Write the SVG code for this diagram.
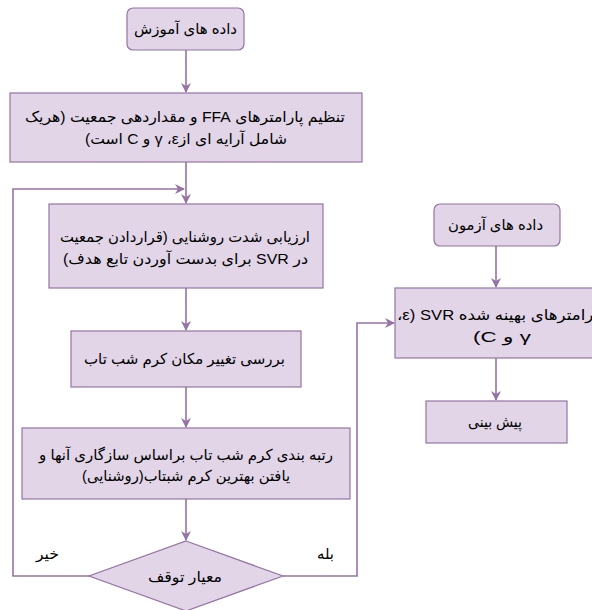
<svg xmlns="http://www.w3.org/2000/svg" width="592" height="610" viewBox="0 0 592 610">
<defs>
<style>
.box{fill:#e1d5e7;stroke:#9673a6;stroke-width:1.2}
.edge{fill:none;stroke:#9673a6;stroke-width:1.6}
.t{font-family:"Liberation Sans","DejaVu Sans",sans-serif;font-size:15px;fill:#000;text-anchor:middle;direction:rtl;unicode-bidi:embed}
</style>
<marker id="arr" viewBox="0 0 10 10" refX="9" refY="5" markerWidth="10" markerHeight="10" markerUnits="userSpaceOnUse" orient="auto">
<path d="M0,0 L10,5 L0,10 L3,5 z" fill="#9673a6"/>
</marker>
</defs>
<rect width="592" height="610" fill="#fff"/>
<g id="connectors">
<line class="edge" x1="186" y1="50" x2="186" y2="92" marker-end="url(#arr)"/>
<line class="edge" x1="186" y1="162" x2="186" y2="203" marker-end="url(#arr)"/>
<line class="edge" x1="186" y1="288" x2="186" y2="330" marker-end="url(#arr)"/>
<line class="edge" x1="186" y1="387" x2="186" y2="427" marker-end="url(#arr)"/>
<line class="edge" x1="186" y1="499" x2="186" y2="540" marker-end="url(#arr)"/>
<polyline class="edge" points="89,576 13,576 13,189 184,189" marker-end="url(#arr)"/>
<polyline class="edge" points="283,576 357,576 357,323 394,323" marker-end="url(#arr)"/>
<line class="edge" x1="496" y1="246" x2="496" y2="287" marker-end="url(#arr)"/>
<line class="edge" x1="496" y1="358" x2="496" y2="400" marker-end="url(#arr)"/>
</g>
<g id="n1">
<rect class="box" x="127" y="8" width="117" height="42" rx="6"/>
<text class="t" x="185.5" y="34" textLength="103" lengthAdjust="spacingAndGlyphs">داده های آموزش</text>
</g>
<g id="n2">
<rect class="box" x="10" y="93" width="352" height="69"/>
<text class="t" x="185" y="122" textLength="320" lengthAdjust="spacingAndGlyphs">تنظیم پارامترهای FFA و مقداردهی جمعیت (هریک</text>
<text class="t" x="186" y="144" textLength="202" lengthAdjust="spacingAndGlyphs">شامل آرایه ای ازε&#x200F;، γ و C است)</text>
</g>
<g id="n3">
<rect class="box" x="49" y="204" width="274" height="84"/>
<text class="t" x="185" y="242" textLength="250" lengthAdjust="spacingAndGlyphs">ارزیابی شدت روشنایی (قراردادن جمعیت</text>
<text class="t" x="185.5" y="264" textLength="245" lengthAdjust="spacingAndGlyphs">در SVR برای بدست آوردن تابع هدف)</text>
</g>
<g id="n4">
<rect class="box" x="71" y="331" width="230" height="56"/>
<text class="t" x="184.5" y="364" textLength="201" lengthAdjust="spacingAndGlyphs">بررسی تغییر مکان کرم شب تاب</text>
</g>
<g id="n5">
<rect class="box" x="22" y="428" width="328" height="71"/>
<text class="t" x="186" y="460" textLength="294" lengthAdjust="spacingAndGlyphs">رتبه بندی کرم شب تاب براساس سازگاری آنها و</text>
<text class="t" x="186" y="481" textLength="208" lengthAdjust="spacingAndGlyphs">یافتن بهترین کرم شبتاب(روشنایی)</text>
</g>
<g id="n6">
<polygon class="box" points="186,541 283,576 186,611 89,576"/>
<text class="t" x="185" y="582" textLength="74" lengthAdjust="spacingAndGlyphs">معیار توقف</text>
</g>
<g id="labels">
<text class="t" x="47.5" y="559" textLength="23" lengthAdjust="spacingAndGlyphs">خیر</text>
<text class="t" x="325.5" y="559" textLength="17" lengthAdjust="spacingAndGlyphs">بله</text>
</g>
<g id="n7">
<rect class="box" x="434" y="204" width="126" height="42" rx="6"/>
<text class="t" x="495.5" y="230" textLength="95" lengthAdjust="spacingAndGlyphs">داده های آزمون</text>
</g>
<g id="n8">
<rect class="box" x="395" y="288" width="210" height="70"/>
<text class="t" x="500" y="320" textLength="206" lengthAdjust="spacingAndGlyphs">پارامترهای بهینه شده SVR&#x200F; (&#x200F;ε&#x200F;،</text>
<text class="t" x="502" y="342" textLength="58" lengthAdjust="spacingAndGlyphs">γ و C)</text>
</g>
<g id="n9">
<rect class="box" x="426" y="401" width="141" height="42"/>
<text class="t" x="495" y="427" textLength="54" lengthAdjust="spacingAndGlyphs">پیش بینی</text>
</g>
</svg>
